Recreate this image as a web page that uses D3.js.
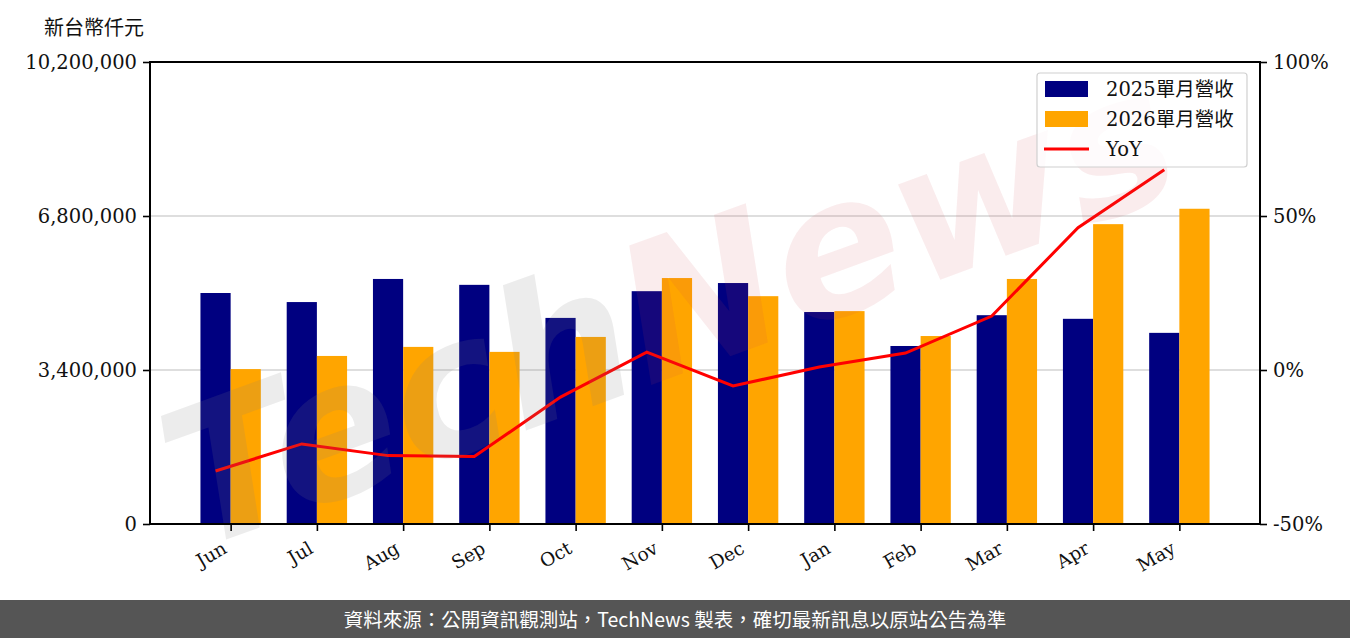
<!DOCTYPE html>
<html><head><meta charset="utf-8">
<script src="https://cdn.jsdelivr.net/npm/d3@7"></script>
<style>
html,body{margin:0;padding:0;background:#fff;}
svg{display:block;}
</style></head>
<body>
<script>
const months = ["Jun","Jul","Aug","Sep","Oct","Nov","Dec","Jan","Feb","Mar","Apr","May"];
const rev2025 = [5100000,4900000,5410000,5280000,4550000,5140000,5320000,4680000,3930000,4610000,4530000,4220000];
const rev2026 = [3420000,3710000,3910000,3800000,4130000,5430000,5030000,4700000,4150000,5410000,6620000,6960000];
const yoy = [-32.8,-24.0,-27.8,-28.1,-8.8,5.8,-5.2,1.0,5.5,17.5,46.2,65.0];
const leftTicks = [0,3400000,6800000,10200000];
const rightTicks = [-50,0,50,100];
const seriesNames = ["2025單月營收","2026單月營收","YoY"];

const W=1350,H=638;
const m={l:150,r:1260,t:62,b:524};
const serif = "'DejaVu Serif','Noto Sans CJK TC',serif";
const svg=d3.select("body").append("svg").attr("width",W).attr("height",H);

const x=d3.scaleLinear().domain([-0.935,11.935]).range([m.l,m.r]);
const y=d3.scaleLinear().domain([0,10200000]).range([m.b,m.t]);
const y2=d3.scaleLinear().domain([-50,100]).range([m.b,m.t]);
const bw=0.35;

// grid
svg.append("g").selectAll("line").data(leftTicks.slice(1,3)).join("line")
 .attr("x1",m.l).attr("x2",m.r).attr("y1",d=>y(d)).attr("y2",d=>y(d))
 .attr("stroke","#d3d3d3").attr("stroke-width",1.5);

// bars
svg.append("g").selectAll("rect").data(rev2025).join("rect")
 .attr("x",(d,i)=>x(i-bw)).attr("width",(d,i)=>x(i)-x(i-bw))
 .attr("y",d=>y(d)).attr("height",d=>y(0)-y(d)).attr("fill","#000080");
svg.append("g").selectAll("rect").data(rev2026).join("rect")
 .attr("x",(d,i)=>x(i)).attr("width",(d,i)=>x(i+bw)-x(i))
 .attr("y",d=>y(d)).attr("height",d=>y(0)-y(d)).attr("fill","#FFA500");

// line
const line=d3.line().x((d,i)=>x(i-bw/2)).y(d=>y2(d));
svg.append("path").datum(yoy).attr("d",line).attr("fill","none")
 .attr("stroke","#ff0000").attr("stroke-width",3);

// watermark
const wm=svg.append("g").attr("transform","translate(680,300) rotate(-20)")
 .style("font-family","'DejaVu Sans',sans-serif").style("font-weight","bold").style("font-style","italic");
wm.append("text").attr("x",-60).attr("y",70).attr("text-anchor","end").attr("font-size",190)
 .attr("fill","#808080").attr("fill-opacity",0.15).text("Tech");
wm.append("text").attr("x",-60).attr("y",70).attr("text-anchor","start").attr("font-size",190)
 .attr("fill","#d04050").attr("fill-opacity",0.1).text("News");

// frame
svg.append("rect").attr("x",m.l).attr("y",m.t).attr("width",m.r-m.l).attr("height",m.b-m.t)
 .attr("fill","none").attr("stroke","#000").attr("stroke-width",2);

// axes
const ga=svg.append("g").attr("transform",`translate(${m.l},0)`)
 .call(d3.axisLeft(y).tickValues(leftTicks).tickSize(7).tickPadding(6).tickFormat(d3.format(",")));
const gb=svg.append("g").attr("transform",`translate(${m.r},0)`)
 .call(d3.axisRight(y2).tickValues(rightTicks).tickSize(7).tickPadding(6).tickFormat(d=>d+"%"));
const gx=svg.append("g").attr("transform",`translate(0,${m.b})`)
 .call(d3.axisBottom(x).tickValues(d3.range(12)).tickSize(7).tickFormat(i=>months[i]));
[ga,gb,gx].forEach(g=>{
  g.select(".domain").remove();
  g.selectAll(".tick line").attr("stroke","#000").attr("stroke-width",1.6);
  g.selectAll("text").style("font-family",serif).style("font-size","19.5px").attr("fill","#111");
});
gx.selectAll("text").style("font-size","18.5px").attr("text-anchor","end").attr("dy",0).attr("y",0)
 .attr("transform","translate(-3,28) rotate(-30)");

// y label
svg.append("text").attr("x",44).attr("y",35).style("font-family",serif).style("font-size","20px")
 .attr("fill","#111").text("新台幣仟元");

// legend
const lg=svg.append("g");
lg.append("rect").attr("x",1037).attr("y",73).attr("width",210).attr("height",94).attr("rx",3)
 .attr("fill","#fff").attr("fill-opacity",0.8).attr("stroke","#d0d0d0").attr("stroke-width",1.2);
const colors=["#000080","#FFA500","#ff0000"];
seriesNames.forEach((n,i)=>{
  const cy=89+i*30;
  if(i<2) lg.append("rect").attr("x",1045).attr("y",cy-8).attr("width",43).attr("height",16).attr("fill",colors[i]);
  else lg.append("line").attr("x1",1044).attr("x2",1089).attr("y1",cy).attr("y2",cy).attr("stroke",colors[i]).attr("stroke-width",3);
  lg.append("text").attr("x",1106).attr("y",cy+7).style("font-family",serif).style("font-size","19.5px").attr("fill","#111").text(n);
});

// footer
svg.append("rect").attr("x",0).attr("y",600).attr("width",W).attr("height",38).attr("fill","#555555");
svg.append("text").attr("x",675).attr("y",627).attr("text-anchor","middle")
 .style("font-family","'Noto Sans CJK TC','Noto Sans',sans-serif").style("font-size","19.5px").attr("fill","#fff")
 .text("資料來源：公開資訊觀測站，TechNews 製表，確切最新訊息以原站公告為準");
</script>
</body></html>
